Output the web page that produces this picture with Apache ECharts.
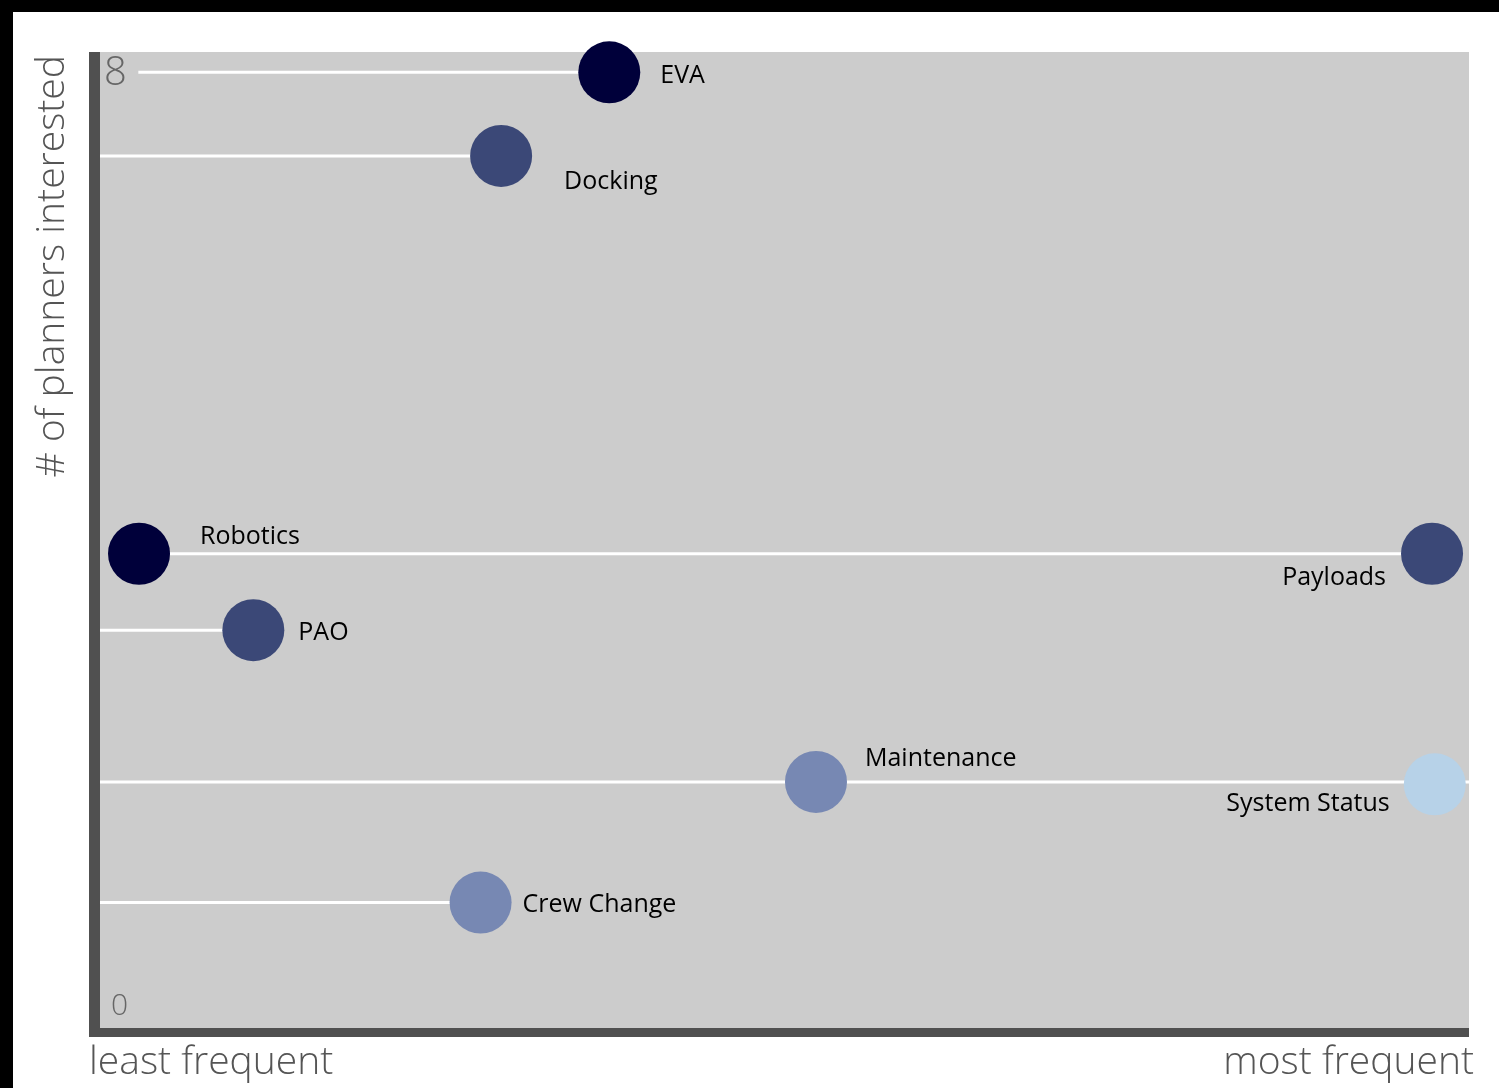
<!DOCTYPE html>
<html>
<head>
<meta charset="utf-8">
<title>planners interest</title>
<script src="https://cdn.jsdelivr.net/npm/echarts@6/dist/echarts.min.js"></script>
<style>
    html, body {
        margin: 0;
        padding: 0;
        background: #000;
    }

    #chart {
        position: absolute;
        left: 13px;
        top: 12px;
        width: 1486px;
        height: 1076px;
        background: #fff;
    }
</style>
</head>
<body>
<div id="chart"></div>
<script>
// data (x: 0 = least frequent, 100 = most frequent)
const tasks = ['EVA', 'Docking', 'Robotics', 'Payloads', 'PAO', 'Maintenance', 'System Status', 'Crew Change'];
const frequency = [37.2, 29.3, 2.85, 97.3, 11.2, 52.3, 97.5, 27.8];
const planners = [8, 7.3, 3.97, 3.97, 3.33, 2.06, 2.04, 1.05];
// white guide lines, start/end on the x scale (null = no own line)
const lineStart = [2.8, 0, 2.85, null, 0, 0, null, 0];
const lineEnd = [37.2, 29.3, 97.3, null, 11.2, 100, null, 27.8];
const yTickLabels = ['0', '8'];
const xEndLabels = ['least frequent', 'most frequent'];
const yTitle = '# of planners interested';

const colors = ['#00003a', '#3b4877', '#00003a', '#3b4877', '#3b4877', '#7788b3', '#b7d2e8', '#7788b3'];
// label placement per point: [position, distance, offsetY]
const labelPos = [
    ['right', 20, 4],
    ['right', 32, 26],
    ['right', 30, -17],
    ['left', 15, 24],
    ['right', 14, 3],
    ['right', 18, -23],
    ['left', 14, 20],
    ['right', 11, 2]
];

var font = '"Open Sans", "DejaVu Sans", sans-serif';
var myChart = echarts.init(document.getElementById('chart'));

var series = [];
for (var i = 0; i < tasks.length; i++) {
    if (lineStart[i] === null) continue;
    series.push({
        type: 'line',
        data: [[lineStart[i], planners[i]], [lineEnd[i], planners[i]]],
        symbol: 'none',
        silent: true,
        lineStyle: { color: '#fff', width: 3 },
        z: 2
    });
}

var points = [];
for (var j = 0; j < tasks.length; j++) {
    points.push({
        name: tasks[j],
        value: [frequency[j], planners[j]],
        itemStyle: { color: colors[j], opacity: 1 },
        label: {
            show: true,
            formatter: tasks[j],
            position: labelPos[j][0],
            distance: labelPos[j][1],
            offset: [0, labelPos[j][2]],
            color: '#000',
            fontSize: 25,
            fontFamily: font
        }
    });
}
series.push({
    type: 'scatter',
    data: points,
    symbolSize: 62,
    clip: false,
    z: 5
});

const option = {
    animation: false,
    grid: {
        left: 87,
        right: 30,
        top: 40,
        bottom: 60,
        show: true,
        backgroundColor: '#cccccc',
        borderWidth: 0
    },
    xAxis: {
        type: 'value',
        min: 0,
        max: 100,
        axisLine: { show: true, onZero: false, lineStyle: { color: '#505050', width: 9, cap: 'butt' } },
        offset: 4.5,
        axisTick: { show: false },
        axisLabel: { show: false },
        splitLine: { show: false }
    },
    yAxis: {
        type: 'value',
        min: 0,
        max: 8.17,
        axisLine: { show: true, onZero: false, lineStyle: { color: '#505050', width: 11, cap: 'butt' } },
        offset: 5.5,
        axisTick: { show: false },
        axisLabel: { show: false },
        splitLine: { show: false }
    },
    series: series
};
myChart.setOption(option);

// axis end labels and titles, placed from the axis scale
var p8 = myChart.convertToPixel({ gridIndex: 0 }, [0, 8]);
var p0 = myChart.convertToPixel({ gridIndex: 0 }, [0, 0]);
var pEnd = myChart.convertToPixel({ gridIndex: 0 }, [100, 0]);
var pTop = myChart.convertToPixel({ gridIndex: 0 }, [0, 8.17]);

myChart.setOption({
    graphic: [
        {
            // corner where the two axis bars meet
            type: 'rect', shape: { x: p0[0] - 11, y: p0[1], width: 11, height: 9 },
            style: { fill: '#505050' }, z: 10
        },
        {
            type: 'text', x: p8[0] + 4, y: p8[1] + 1,
            style: { text: yTickLabels[1], fill: '#666', font: '300 40px ' + font, verticalAlign: 'middle' }
        },
        {
            type: 'text', x: p0[0] + 11, y: p0[1] - 22,
            style: { text: yTickLabels[0], fill: '#666', font: '300 30px ' + font, verticalAlign: 'middle' }
        },
        {
            type: 'text', x: p0[0] - 11, y: p0[1] + 35,
            style: { text: xEndLabels[0], fill: '#555', font: '300 39px ' + font, verticalAlign: 'middle' }
        },
        {
            type: 'text', x: pEnd[0] + 5, y: p0[1] + 35,
            style: { text: xEndLabels[1], fill: '#555', font: '300 39px ' + font, align: 'right', verticalAlign: 'middle' }
        },
        {
            type: 'text', x: 40, y: pTop[1] + 3, rotation: Math.PI / 2,
            style: { text: yTitle, fill: '#555', font: '300 39px ' + font, align: 'right', verticalAlign: 'middle' }
        }
    ]
});
</script>
</body>
</html>
